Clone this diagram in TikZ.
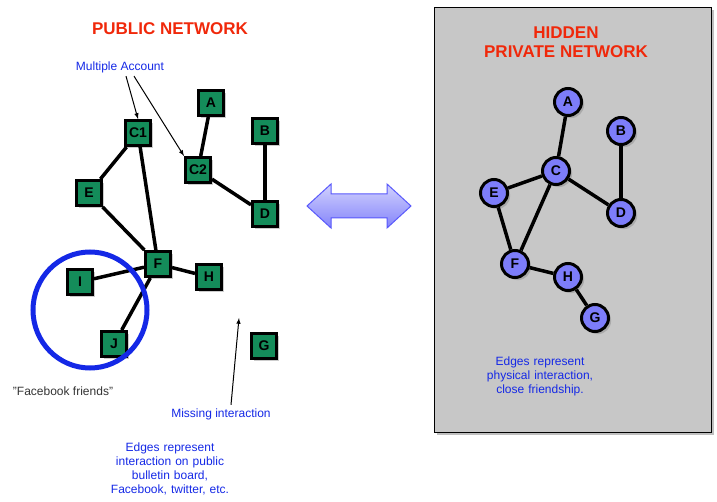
\documentclass[tikz,border=0pt]{standalone}
\usepackage{fontspec}
\setmainfont{Liberation Sans}
\usetikzlibrary{shapes.geometric,shadows}
\definecolor{sq}{RGB}{20,140,90}
\definecolor{ci}{RGB}{125,125,250}
\definecolor{tb}{RGB}{20,40,230}
\definecolor{tr}{RGB}{240,40,10}
\begin{document}
\begin{tikzpicture}[x=1pt,y=-1pt,
 sqn/.style={draw=black,line width=3pt,fill=sq,minimum size=25pt,inner sep=0pt,font=\bfseries\fontsize{14}{16}\selectfont,drop shadow={opacity=0.4}},
 cin/.style={circle,draw=black,line width=3pt,fill=ci,minimum size=27pt,inner sep=0pt,font=\bfseries\fontsize{14}{16}\selectfont,drop shadow={opacity=0.4}},
 ed/.style={line width=3.5pt},
 lab/.style={text=tb,font=\fontsize{12}{14}\selectfont,align=center},
 ttl/.style={text=tr,font=\bfseries\fontsize{17}{20}\selectfont,align=center},
 ann/.style={-latex,line width=1pt}]
\useasboundingbox (0,0) rectangle (717,502);
\node[draw=black,line width=1pt,fill=black!22,minimum width=277pt,minimum height=425pt,anchor=north west,drop shadow={opacity=0.5}] (box) at (434,7) {};
% public
\node[sqn] (C1) at (138,133) {C1};
\node[sqn] (C2) at (198,170) {C2};
\node[sqn] (A) at (211,103) {A};
\node[sqn] (B) at (265,131) {B};
\node[sqn] (D) at (265,214) {D};
\node[sqn] (E) at (89,193) {E};
\node[sqn] (F) at (158,264) {F};
\node[sqn] (H) at (209,277) {H};
\node[sqn] (I) at (80,282) {I};
\node[sqn] (J) at (114,344) {J};
\node[sqn] (G) at (264,346) {G};
\draw[ed] (C1) -- (E); \draw[ed] (C1) -- (F); \draw[ed] (E) -- (F);
\draw[ed] (A) -- (C2); \draw[ed] (C2) -- (D); \draw[ed] (B) -- (D);
\draw[ed] (F) -- (H); \draw[ed] (F) -- (I); \draw[ed] (F) -- (J);
\node[ellipse,draw=tb,line width=5pt,minimum width=114pt,minimum height=116pt] (circ) at (90,310) {};
% private
\node[cin] (pA) at (568,102) {A};
\node[cin] (pB) at (621,131) {B};
\node[cin] (pC) at (556,171) {C};
\node[cin] (pD) at (621,213) {D};
\node[cin] (pE) at (494,193) {E};
\node[cin] (pF) at (515,264) {F};
\node[cin] (pH) at (568,277) {H};
\node[cin] (pG) at (595,318) {G};
\draw[ed] (pA) -- (pC); \draw[ed] (pC) -- (pE); \draw[ed] (pC) -- (pF);
\draw[ed] (pC) -- (pD); \draw[ed] (pB) -- (pD); \draw[ed] (pE) -- (pF);
\draw[ed] (pF) -- (pH); \draw[ed] (pH) -- (pG);
% double arrow
\draw[draw=ci!70!blue,line width=1pt,top color=ci!35,bottom color=ci!95]
 (307,206) -- (331,184) -- (331,194) -- (387,194) -- (387,184) -- (411,206)
 -- (387,228) -- (387,218) -- (331,218) -- (331,228) -- cycle;
% texts
\node[ttl] (t1) at (170,29) {PUBLIC NETWORK};
\node[ttl] (t2) at (566,42) {HIDDEN\\[-1pt]PRIVATE NETWORK};
\node[lab] (ma) at (120,67) {Multiple Account};
\draw[ann] (ma.south) ++(6,0) coordinate (m1) -- (C1.north);
\draw[ann] (ma.south) ++(14,0) coordinate (m2) -- (C2.north west);
\node[font=\fontsize{12}{14}\selectfont,text=black!80] (fb) at (63,391) {"Facebook friends"};
\node[lab] (mi) at (221,414) {Missing interaction};
\coordinate (mt) at (239,318);
\draw[ann] (mi.north) ++(10,0) coordinate (m3) -- (mt);
\node[lab,text width=170pt] (pub) at (170,469) {Edges represent\\interaction on public\\bulletin board,\\Facebook, twitter, etc.};
\node[lab,text width=170pt] (pri) at (540,376) {Edges represent\\physical interaction,\\close friendship.};
\end{tikzpicture}
\end{document}
